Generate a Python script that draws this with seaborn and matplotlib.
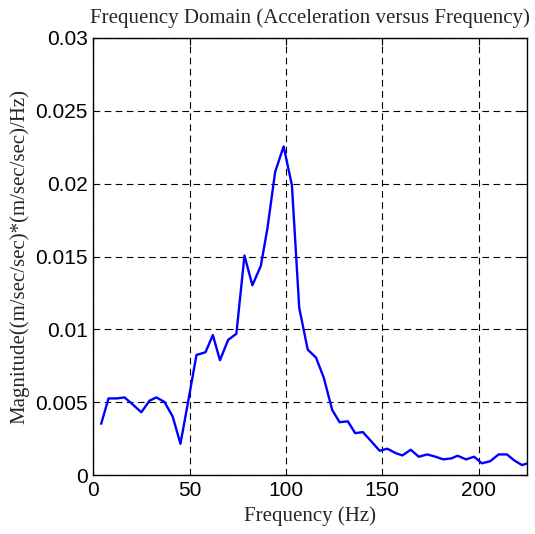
import pandas as pd
import matplotlib
matplotlib.use("Agg")
import matplotlib.pyplot as plt
import seaborn as sns

# spectrum
freq = [4.2, 8.0, 12.3, 16.3, 20.7, 25.0, 29.3, 32.8, 37.0, 41.3, 45.3, 49.5,
        53.6, 58.3, 62.1, 65.8, 70.0, 74.3, 78.5, 82.6, 87.0, 90.4, 94.4, 98.8,
        103.1, 106.9, 111.3, 115.6, 119.6, 124.0, 127.8, 132.1, 135.9, 139.9,
        144.3, 148.6, 152.6, 156.9, 160.4, 164.7, 168.9, 173.3, 177.6, 181.6,
        185.9, 189.0, 193.4, 197.6, 201.6, 205.9, 210.3, 214.6, 218.4, 222.4, 226.7]
mag = [0.00353, 0.00527, 0.00527, 0.00534, 0.00484, 0.00432, 0.00512, 0.00534,
       0.00503, 0.00402, 0.00216, 0.0052, 0.00825, 0.00844, 0.00962, 0.00789,
       0.00928, 0.00971, 0.01507, 0.01303, 0.01437, 0.01693, 0.0208, 0.02256,
       0.0199, 0.01148, 0.00862, 0.00807, 0.0067, 0.00448, 0.00364, 0.0037,
       0.00289, 0.00296, 0.00232, 0.00168, 0.00182, 0.00152, 0.00136, 0.00175,
       0.00127, 0.00143, 0.00127, 0.00109, 0.00116, 0.00134, 0.00109, 0.00127,
       0.00082, 0.00096, 0.00143, 0.00143, 0.00102, 0.0007, 0.00087]

df = pd.DataFrame({"freq": freq, "mag": mag})

sns.set_style("white")
plt.rcParams["font.family"] = ["Liberation Sans", "DejaVu Sans"]

fig = plt.figure(figsize=(5.35, 5.34), dpi=100)
ax = fig.add_axes([0.174, 0.110, 0.811, 0.819])

sns.lineplot(data=df, x="freq", y="mag", ax=ax, color="#0000ff", linewidth=1.7)

ax.set_xlim(0, 225)
ax.set_ylim(0, 0.03)
ax.set_xticks([0, 50, 100, 150, 200])
ax.set_yticks([0, 0.005, 0.01, 0.015, 0.02, 0.025, 0.03])
ax.set_yticklabels(["0", "0.005", "0.01", "0.015", "0.02", "0.025", "0.03"])
ax.tick_params(direction="in", top=True, right=True, labelsize=15, length=5,
               width=0.8, colors="black", pad=4)
ax.grid(True, color="black", linestyle=(0, (6, 4)), linewidth=0.8)
for s in ax.spines.values():
    s.set_color("black")
    s.set_linewidth(1.0)

serif = ["Liberation Serif", "DejaVu Serif"]
ax.set_title("Frequency Domain (Acceleration versus Frequency)", fontsize=15,
             family=serif, pad=11)
ax.set_xlabel("Frequency (Hz)", fontsize=15, family=serif, labelpad=5)
ax.set_ylabel("Magnitude((m/sec/sec)*(m/sec/sec)/Hz)", fontsize=15, family=serif)
ax.yaxis.set_label_coords(-0.147, 0.5)

fig.savefig("out.png", dpi=100)
